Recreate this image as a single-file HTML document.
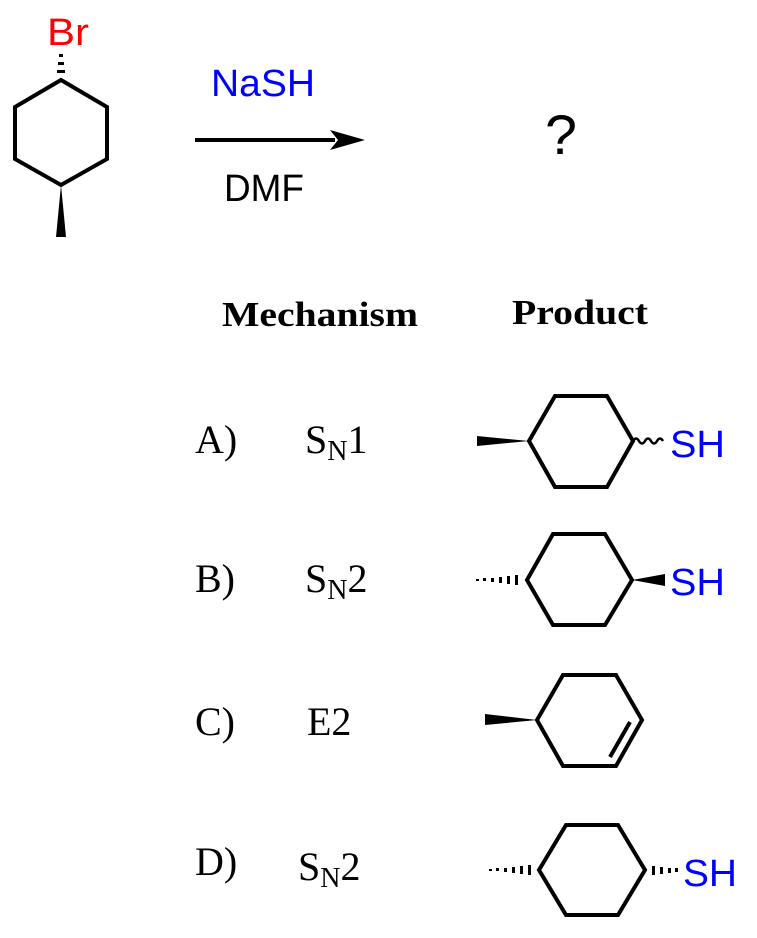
<!DOCTYPE html>
<html><head><meta charset="utf-8"><style>html,body{margin:0;padding:0;background:#fff}svg{display:block}</style></head>
<body>
<svg width="757" height="938" viewBox="0 0 757 938" xmlns="http://www.w3.org/2000/svg">
<g fill="none" stroke="#000" stroke-width="4" stroke-linejoin="miter">
<polygon points="61,80 107,107 107,159 61,185 15,159 15,107"/>
<line x1="195" y1="140" x2="335" y2="140"/>
<polygon points="529,441 555,396 607,396 633,441 607,487 555,487"/>
<polygon points="527,580 553,534 605,534 632,580 605,625 553,625"/>
<polygon points="537,720 563,675 616,675 642,720 616,766 563,766"/>
<line x1="630" y1="722" x2="610" y2="757"/>
<polygon points="539,870 566,825 618,825 645,870 618,915 566,915"/>
<path d="M633,441 q3,-5 6,0 t6,0 t6,0 t6,0 t6,0" stroke-width="2.5"/>
</g>
<polygon points="330,130 365,140 330,150 338,140" fill="#000"/>
<g fill="#000">
<polygon points="61,185 56,237 66,237"/>
<rect x="57" y="70" width="8" height="3"/><rect x="58" y="62" width="6" height="3"/><rect x="59" y="54" width="4" height="3"/>
<polygon points="529,441 477,436 477,446"/>
<rect x="515" y="575" width="3" height="10"/><rect x="507" y="576" width="3" height="8"/><rect x="499" y="577" width="3" height="6"/><rect x="491" y="578" width="3" height="4"/><rect x="483" y="578" width="3" height="3"/><rect x="476" y="579" width="3" height="2"/>
<polygon points="632,580 665,574 665,586"/>
<polygon points="537,720 485,714 485,725"/>
<rect x="528" y="865" width="3" height="10"/><rect x="520" y="866" width="3" height="8"/><rect x="512" y="867" width="3" height="6"/><rect x="504" y="868" width="3" height="4"/><rect x="496" y="868" width="3" height="3"/><rect x="489" y="869" width="3" height="2"/>
<rect x="652" y="866" width="3" height="9"/><rect x="660" y="867" width="3" height="7"/><rect x="668" y="868" width="3" height="5"/><rect x="675" y="868" width="3" height="4"/>
</g>
<g font-family="Liberation Sans, Arial, sans-serif" font-size="38">
<text x="47" y="45" fill="#f00" textLength="42" lengthAdjust="spacingAndGlyphs">Br</text>
<text x="211" y="96" fill="#00f" textLength="104" lengthAdjust="spacingAndGlyphs">NaSH</text>
<text x="224" y="201" fill="#000" textLength="80" lengthAdjust="spacingAndGlyphs">DMF</text>
<text x="545" y="154" fill="#000" font-size="56" textLength="32" lengthAdjust="spacingAndGlyphs">?</text>
<text x="670" y="457" fill="#00f" textLength="55" lengthAdjust="spacingAndGlyphs">SH</text>
<text x="670" y="595" fill="#00f" textLength="55" lengthAdjust="spacingAndGlyphs">SH</text>
<text x="683" y="886" fill="#00f" textLength="54" lengthAdjust="spacingAndGlyphs">SH</text>
</g>
<g font-family="Liberation Serif, Times New Roman, serif" fill="#000">
<text x="222" y="326" font-size="35" font-weight="bold" textLength="196" lengthAdjust="spacingAndGlyphs">Mechanism</text>
<text x="512" y="324" font-size="35" font-weight="bold" textLength="136" lengthAdjust="spacingAndGlyphs">Product</text>
<g font-size="40">
<text x="195" y="453">A)</text>
<text x="305" y="453">S<tspan font-size="28" dy="7">N</tspan><tspan dy="-7">1</tspan></text>
<text x="195" y="592">B)</text>
<text x="305" y="592">S<tspan font-size="28" dy="7">N</tspan><tspan dy="-7">2</tspan></text>
<text x="195" y="735">C)</text>
<text x="307" y="735">E2</text>
<text x="195" y="875">D)</text>
<text x="298" y="880">S<tspan font-size="28" dy="7">N</tspan><tspan dy="-7">2</tspan></text>
</g>
</g>
</svg>
</body></html>
